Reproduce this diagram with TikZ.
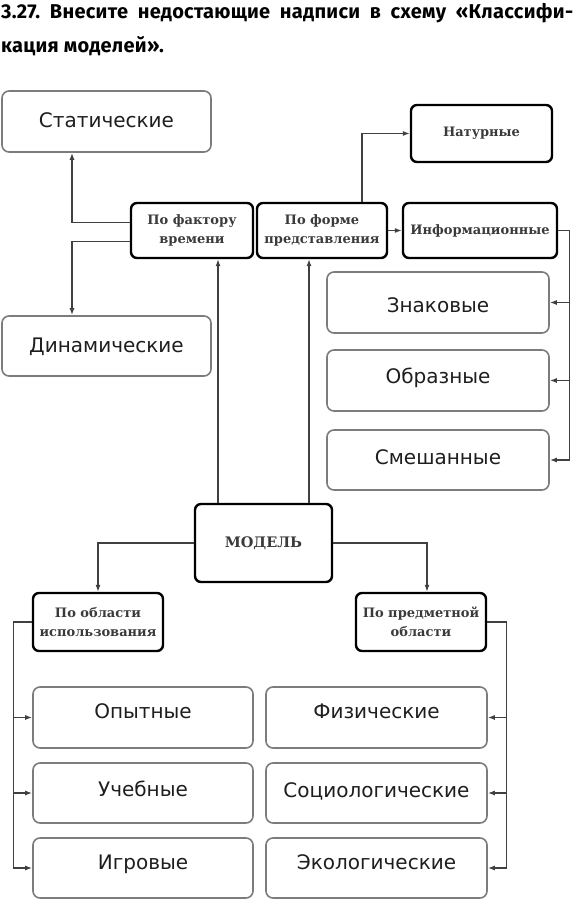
\documentclass[tikz,border=0pt]{standalone}
\usepackage{fontspec}
\usepackage{xcolor}
\usepackage{tikz}
\usetikzlibrary{arrows.meta}
\newfontfamily\headfont[LetterSpace=1.5]{Fira Sans}
\newfontfamily\vidfont{DejaVu Sans}
\newfontfamily\priznfont{DejaVu Serif}
\definecolor{ink}{HTML}{1e1e1e}
\definecolor{rim}{HTML}{7c7c7c}
\definecolor{wirec}{HTML}{404040}
\definecolor{serifink}{HTML}{3a3a3a}

\begin{document}
\frenchspacing
\begin{tikzpicture}[x=1pt, y=-1pt,
  vid/.style={draw=rim, line width=1.6pt, rounded corners=7pt, minimum width=209pt,
    minimum height=61pt, inner sep=0pt, text height=15pt, text depth=5pt,
    font=\vidfont\fontsize{20}{24}\selectfont, text=ink},
  prizn/.style={draw=black, line width=2.4pt, rounded corners=6pt, minimum height=55pt,
    inner sep=0pt, align=center, font=\priznfont\bfseries\fontsize{13}{18.5}\selectfont,
    text=serifink},
  lift/.style={text depth=#1},
  link/.style={draw=wirec, line width=1.3pt},
  arr/.style={link, -{Latex[length=7pt,width=5pt]}}]
  \useasboundingbox (0,0) rectangle (581,904);
  % Title
  \node[anchor=base west, inner sep=0pt, font=\headfont\bfseries\fontsize{20}{24}\selectfont] (head1) at (1,19)
    {\makebox[572pt][s]{3.27. Внесите недостающие надписи в схему «Классифи-}};
  \node[anchor=base west, inner sep=0pt, font=\headfont\bfseries\fontsize{20}{24}\selectfont] (head2) at (1,53)
    {кация моделей».};
  % Criteria
  \node[prizn, minimum width=137pt, minimum height=78pt, font=\priznfont\bfseries\fontsize{14.5}{18}\selectfont] (model) at (263.5,543) {МОДЕЛЬ};
  \node[prizn, minimum width=122pt] (faktor) at (192,230.5) {По фактору\\времени};
  \node[prizn, minimum width=130pt] (forma) at (322,230.5) {По форме\\представления};
  \node[prizn, minimum width=141pt, minimum height=57pt] (natur) at (481.5,133.5) {Натурные};
  \node[prizn, minimum width=154pt] (inform) at (480,230.5) {Информационные};
  \node[prizn, minimum width=130pt, minimum height=58pt] (oblast) at (98,622) {По области\\использования};
  \node[prizn, minimum width=130pt, minimum height=58pt] (predm) at (421,622) {По предметной\\области};
  % Kinds
  \node[vid, lift=2pt] (stat) at (106.5,121.5) {Статические};
  \node[vid, lift=3pt, minimum height=60pt] (dyn) at (106.5,346) {Динамические};
  \node[vid, minimum width=222pt, text height=19pt, text depth=0pt] (znak) at (438,302.5) {Знаковые};
  \node[vid, minimum width=222pt, lift=10pt] (obraz) at (438,380.5) {Образные};
  \node[vid, minimum width=222pt, minimum height=60pt, lift=7pt] (smesh) at (438,460) {Смешанные};
  \node[vid, minimum width=220pt, lift=14pt] (opyt) at (143,717.5) {Опытные};
  \node[vid, minimum width=220pt, minimum height=60pt, lift=8pt] (ucheb) at (143,793) {Учебные};
  \node[vid, minimum width=220pt, minimum height=60pt, lift=13pt] (igr) at (143,868) {Игровые};
  \node[vid, minimum width=221pt, lift=14pt] (fiz) at (376.5,717.5) {Физические};
  \node[vid, minimum width=221pt, minimum height=60pt, lift=7pt] (soc) at (376.5,793) {Социологические};
  \node[vid, minimum width=221pt, minimum height=60pt, lift=12pt] (eko) at (376.5,868) {Экологические};
  % Connectors, top
  \draw[arr] ([yshift=8pt]faktor.west) -| ([xshift=-34.5pt]stat.south);
  \draw[arr] ([yshift=-11pt]faktor.west) -| ([xshift=-34.5pt]dyn.north);
  \draw[arr] ([xshift=-45.5pt]model.north) -- ([xshift=-45.5pt]model.north |- faktor.south);
  \draw[arr] ([xshift=45.5pt]model.north) -- ([xshift=45.5pt]model.north |- forma.south);
  \draw[arr] ([xshift=40pt]forma.north) |- (natur.west);
  \draw[arr] (forma.east) -- (inform.west);
  \coordinate (infbus) at ([xshift=20pt]smesh.east);
  \draw[link] (inform.east) -| (infbus);
  \foreach \k in {znak,obraz,smesh}
    \draw[arr] (\k.east -| infbus) -- (\k.east);
  % Connectors, bottom
  \draw[arr] (model.west) -| (oblast.north);
  \draw[arr] (model.east) -| ([xshift=6pt]predm.north);
  \coordinate (oblbus) at ([xshift=-19pt]igr.west);
  \coordinate (predbus) at ([xshift=19pt]eko.east);
  \draw[link] (oblast.west) -| (oblbus);
  \draw[link] (predm.east) -| (predbus);
  \foreach \k in {opyt,ucheb,igr}
    \draw[arr] (\k.west -| oblbus) -- (\k.west);
  \foreach \k in {fiz,soc,eko}
    \draw[arr] (\k.east -| predbus) -- (\k.east);
\end{tikzpicture}
\end{document}
